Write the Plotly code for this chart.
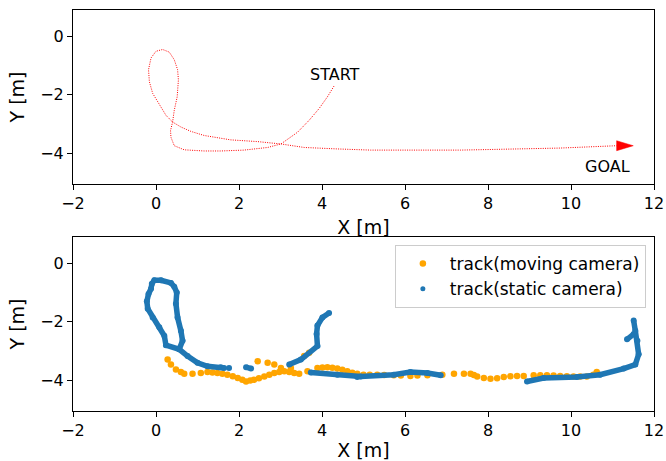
import plotly.graph_objects as go

# ---- planned path (top panel) ----
path_x = [4.29, 4.13, 3.93, 3.69, 3.41, 3.17, 3.01, 2.69, 2.12, 1.56, 1.16, 0.68, 0.44, 0.36, 0.35, 0.40,
          0.44, 0.51, 0.54, 0.52, 0.44, 0.32, 0.16, 0.00, -0.12, -0.18, -0.16, -0.08, 0.08, 0.24, 0.40,
          0.60, 0.84, 1.16, 1.80, 2.45, 3.01, 3.57, 4.37, 5.17, 7.34, 9.74, 11.10]
path_y = [-1.70, -2.07, -2.47, -2.87, -3.28, -3.51, -3.68, -3.80, -3.89, -3.92, -3.92, -3.88, -3.74, -3.45, -3.22, -2.93,
          -2.53, -2.07, -1.49, -1.14, -0.80, -0.54, -0.45, -0.51, -0.74, -1.14, -1.55, -1.95, -2.35, -2.70, -2.93,
          -3.10, -3.25, -3.39, -3.54, -3.60, -3.68, -3.80, -3.85, -3.89, -3.89, -3.82, -3.74]
arrow_head_length = 0.40
arrow_head_width = 0.34
start_label = ("START", 3.66, -1.31)
goal_label = ("GOAL", 10.28, -4.46)

# ---- tracks (bottom panel) ----
moving_x = [0.28, 0.36, 0.48, 0.60, 0.68, 0.88, 1.08, 1.24, 1.36, 1.48, 1.60, 1.72, 1.85, 1.97, 2.08, 2.17,
            2.27, 2.36, 2.48, 2.61, 2.73, 2.85, 2.97, 3.09, 3.21, 3.33, 3.45, 2.45, 2.69, 2.85, 3.01, 3.25,
            3.57, 3.69, 3.65, 3.89, 4.01, 4.13, 4.25, 4.37, 4.49, 4.61, 4.73, 4.85, 5.00, 5.15, 5.33, 5.50,
            5.73, 5.90, 6.13, 6.30, 6.54, 6.90, 7.18, 7.42, 7.58, 7.66, 7.74, 7.90, 8.06, 8.22, 8.38, 8.54,
            8.70, 8.86, 9.10, 9.26, 9.42, 9.58, 9.74, 9.90, 10.06, 10.22, 10.38, 10.54, 10.62]
moving_y = [-3.29, -3.46, -3.63, -3.72, -3.78, -3.78, -3.75, -3.72, -3.73, -3.75, -3.78, -3.81, -3.86, -3.92, -3.98, -4.04,
            -4.01, -3.98, -3.93, -3.87, -3.81, -3.75, -3.72, -3.69, -3.72, -3.75, -3.78, -3.35, -3.40, -3.46, -3.58, -3.58,
            -3.17, -3.06, -3.69, -3.58, -3.56, -3.55, -3.57, -3.60, -3.64, -3.69, -3.74, -3.78, -3.81, -3.81, -3.81, -3.82,
            -3.83, -3.84, -3.85, -3.84, -3.83, -3.81, -3.78, -3.78, -3.78, -3.82, -3.87, -3.92, -3.95, -3.93, -3.89, -3.86,
            -3.85, -3.85, -3.83, -3.83, -3.83, -3.84, -3.85, -3.86, -3.87, -3.87, -3.87, -3.81, -3.72]

static_x = [0.56, 0.64, 0.60, 0.52, 0.48, 0.50, 0.44, 0.36, 0.12, -0.04, -0.10, -0.12, -0.18, -0.22, -0.20, -0.08, 0.08, 0.20,
            0.24, 0.56, 0.76, 1.00, 1.24, 1.56, 1.64, None,
            1.76, None,
            2.17, 2.29, None,
            3.21, 3.49, 3.89, 3.87, 3.89, 4.01, 4.17, None,
            3.73, 4.37, 4.85, 4.93, 5.73, 6.13, 6.54, 6.86, None,
            8.94, 9.34, 10.14, 10.70, 11.27, 11.55, 11.63, 11.60, 11.55, 11.51, None,
            11.35, 11.51]
static_y = [-2.94, -2.65, -2.31, -1.85, -1.38, -1.00, -0.80, -0.67, -0.58, -0.58, -0.70, -0.87, -1.05, -1.30, -1.55, -1.85, -2.19, -2.48,
            -2.80, -2.94, -3.17, -3.40, -3.52, -3.55, -3.58, None,
            -3.58, None,
            -3.55, -3.60, None,
            -3.46, -3.29, -2.83, -2.42, -2.13, -1.85, -1.70, None,
            -3.73, -3.81, -3.89, -3.87, -3.81, -3.72, -3.75, -3.83, None,
            -4.04, -3.92, -3.89, -3.81, -3.60, -3.46, -3.11, -2.65, -2.31, -1.96, None,
            -2.60, -2.42]

x_ticks = [-2, 0, 2, 4, 6, 8, 10, 12]
y_ticks = [-4, -2, 0]
x_range = [-2, 12]
y_range = [-5.05, 0.9]

BLUE = "#1f77b4"
ORANGE = "#ffa500"
FONT = "DejaVu Sans"

fig = go.Figure()

# top: planned path
fig.add_trace(go.Scatter(x=path_x, y=path_y, mode="lines",
                         line=dict(color="red", width=1, dash="1px,1.3px"),
                         showlegend=False, xaxis="x", yaxis="y", hoverinfo="skip"))
bx, by = path_x[-1], path_y[-1]
fig.add_trace(go.Scatter(x=[bx, bx + arrow_head_length, bx, bx],
                         y=[by + arrow_head_width / 2, by, by - arrow_head_width / 2, by + arrow_head_width / 2],
                         mode="lines", fill="toself", fillcolor="red", line=dict(color="red", width=0.5),
                         showlegend=False, xaxis="x", yaxis="y", hoverinfo="skip"))

# bottom: tracks
fig.add_trace(go.Scatter(x=moving_x, y=moving_y, mode="markers", name="track(moving camera)",
                         marker=dict(color=ORANGE, size=6.5), xaxis="x2", yaxis="y2"))
fig.add_trace(go.Scatter(x=static_x, y=static_y, mode="lines+markers", showlegend=False,
                         line=dict(color=BLUE, width=5.5), marker=dict(color=BLUE, size=6),
                         connectgaps=False, xaxis="x2", yaxis="y2"))
fig.add_trace(go.Scatter(x=[None], y=[None], mode="markers", name="track(static camera)",
                         marker=dict(color=BLUE, size=5), xaxis="x2", yaxis="y2"))

axis_common = dict(showline=True, linecolor="black", linewidth=1, mirror=True, ticks="outside",
                   ticklen=5, tickwidth=1, tickcolor="black", showgrid=False, zeroline=False,
                   automargin=False,
                   tickfont=dict(size=16, color="black", family=FONT))

fig.update_layout(
    width=666, height=461,
    margin=dict(l=73, r=12, t=10, b=50, autoexpand=False),
    paper_bgcolor="white", plot_bgcolor="white",
    font=dict(family=FONT, size=16, color="black"),
    xaxis=dict(domain=[0, 1], anchor="y", range=x_range, tickvals=x_ticks,
               title=dict(text="X [m]", standoff=8), **axis_common),
    yaxis=dict(domain=[0.566, 1], anchor="x", range=y_range, tickvals=y_ticks,
               title=dict(text="Y [m]", standoff=10), **axis_common),
    xaxis2=dict(domain=[0, 1], anchor="y2", range=x_range, tickvals=x_ticks,
                title=dict(text="X [m]", standoff=11), **axis_common),
    yaxis2=dict(domain=[0, 0.434], anchor="x2", range=y_range, tickvals=y_ticks,
                title=dict(text="Y [m]", standoff=10), **axis_common),
    legend=dict(x=0.986, y=0.414, xanchor="right", yanchor="top",
                bgcolor="rgba(255,255,255,0.8)", bordercolor="#cccccc", borderwidth=1,
                font=dict(size=17, family=FONT, color="black"), tracegroupgap=0, itemwidth=44),
    annotations=[
        dict(text=start_label[0], x=start_label[1], y=start_label[2], xref="x", yref="y",
             xanchor="left", yanchor="middle", showarrow=False, font=dict(size=16, color="black")),
        dict(text=goal_label[0], x=goal_label[1], y=goal_label[2], xref="x", yref="y",
             xanchor="left", yanchor="middle", showarrow=False, font=dict(size=16, color="black")),
    ],
)

# remove the browser's default body margin so the 666x461 figure fills the window exactly
fig.write_html("out.html", config={"displayModeBar": False},
               post_script="document.body.style.margin='0px';document.body.style.overflow='hidden';")
